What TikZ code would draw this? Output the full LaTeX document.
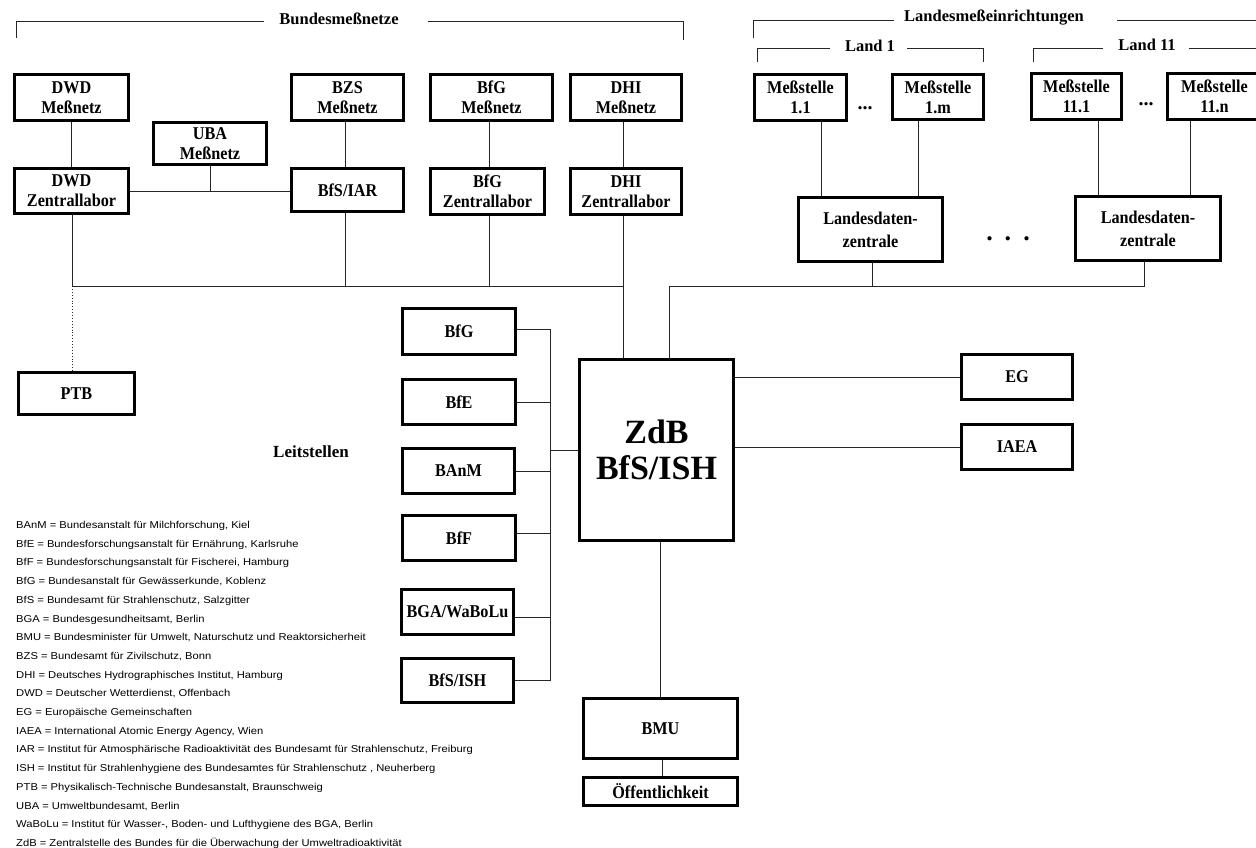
\documentclass[tikz,border=0pt]{standalone}
\usepackage{fontspec}
\setmainfont{Liberation Serif}
\newfontfamily\boxfont{Liberation Serif}[FakeStretch=0.9]
\newfontfamily\headfont{Liberation Serif}
\newfontfamily\legfont{Liberation Sans}[FakeStretch=1.12]
\usetikzlibrary{calc}

\tikzset{
  box/.style={draw, line width=3.2pt, inner sep=0pt, align=center,
    font=\boxfont\bfseries\fontsize{18}{20}\selectfont},
  bigbox/.style={box, font=\headfont\bfseries\fontsize{34}{36}\selectfont},
  conn/.style={line width=0.9pt, draw=black!85},
  ptbconn/.style={conn, dotted},
  bracket/.style={line width=0.9pt, draw=black!85},
  heading/.style={inner sep=0pt, font=\headfont\bfseries\fontsize{16.5}{18}\selectfont},
  legend/.style={anchor=base west, inner sep=0pt, font=\legfont\fontsize{10}{10}\selectfont},
}

\begin{document}
\begin{tikzpicture}[x=1pt, y=-1pt]
\useasboundingbox (0,0) rectangle (1256,847);

% ---------- Bundesmessnetze ----------
\node[heading] (hbund) at (339,19) {Bundesmeßnetze};
\coordinate (bundL) at (16,38);
\coordinate (bundR) at (683,40);
\draw[bracket] (bundL) |- ($(hbund.west)+(-15,2)$);
\draw[bracket] ($(hbund.east)+(29,2)$) -| (bundR);

\node[box, minimum width=114, minimum height=46] (dwdm) at (71.5,97.5) {DWD\\Meßnetz};
\node[box, minimum width=113, minimum height=42] (uba)  at (210,143.5) {UBA\\Meßnetz};
\node[box, minimum width=112, minimum height=46] (bzs)  at (347.5,97.5) {BZS\\Meßnetz};
\node[box, minimum width=122, minimum height=46] (bfgm) at (491.5,97.5) {BfG\\Meßnetz};
\node[box, minimum width=111, minimum height=46] (dhim) at (626,97.5) {DHI\\Meßnetz};

\node[box, minimum width=114, minimum height=45] (dwdz) at (71.5,191) {DWD\\Zentrallabor};
\node[box, minimum width=112, minimum height=43] (iar)  at (347.5,190) {BfS/IAR};
\node[box, minimum width=114, minimum height=46] (bfgz) at (487.5,191.5) {BfG\\Zentrallabor};
\node[box, minimum width=111, minimum height=46] (dhiz) at (626,191.5) {DHI\\Zentrallabor};

\node[box, minimum width=116, minimum height=42] (ptb) at (76.5,393.5) {PTB};

% ---------- Landesmesseinrichtungen ----------
\node[heading] (hland) at (994,18) {Landesmeßeinrichtungen};
\draw[bracket] (753,38) |- ($(hland.west)+(-10,2)$);
\draw[bracket] ($(hland.east)+(33,2)$) -- (1262,20);

\node[heading] (hland1) at (870,46) {Land 1};
\draw[bracket] (757,62) |- ($(hland1.west)+(-15,2)$);
\draw[bracket] ($(hland1.east)+(12,2)$) -| (983,62);

\node[heading] (hland11) at (1147,45) {Land 11};
\draw[bracket] (1033,62) |- ($(hland11.west)+(-15,3)$);
\draw[bracket] ($(hland11.east)+(13,3)$) -- (1262,48);

\node[box, minimum width=92, minimum height=46] (m11)  at (800.5,97.5) {Meßstelle\\1.1};
\node[box, minimum width=91, minimum height=45] (m1m)  at (938,97) {Meßstelle\\1.m};
\node[box, minimum width=90, minimum height=46] (m111) at (1076.5,96.5) {Meßstelle\\11.1};
\node[box, minimum width=94, minimum height=46] (m11n) at (1214.5,96.5) {Meßstelle\\11.n};

\node[inner sep=0pt, font=\headfont\bfseries\fontsize{20}{20}\selectfont] (dots1) at (865,108) {...};
\node[inner sep=0pt, font=\headfont\bfseries\fontsize{20}{20}\selectfont] (dots2) at (1146,104) {...};

\node[box, minimum width=144, minimum height=64,
      font=\boxfont\bfseries\fontsize{18}{23}\selectfont] (ld1)  at (870.5,229.5) {Landesdaten-\\zentrale};
\node[box, minimum width=145, minimum height=64,
      font=\boxfont\bfseries\fontsize{18}{23}\selectfont] (ld11) at (1148,228.5) {Landesdaten-\\zentrale};
\node[inner sep=0pt, font=\headfont\bfseries\fontsize{26}{26}\selectfont] (dots3) at (1008,239) {.\hspace{12pt}.\hspace{12pt}.};

% ---------- centre ----------
\node[bigbox, minimum width=154, minimum height=181] (zdb) at (656.5,450) {ZdB\\BfS/ISH};

\node[box, minimum width=111, minimum height=45] (eg)   at (1017,377) {EG};
\node[box, minimum width=111, minimum height=45] (iaea) at (1017,447) {IAEA};

\node[box, minimum width=154, minimum height=60] (bmu)  at (660.5,728.5) {BMU};
\node[box, minimum width=154, minimum height=28] (oeff) at (660.5,791.5) {Öffentlichkeit};

% ---------- Leitstellen ----------
\node[heading, font=\headfont\bfseries\fontsize{17}{18}\selectfont] (hleit) at (311,452) {Leitstellen};
\node[box, minimum width=113, minimum height=46] (lbfg)  at (459,331.5) {BfG};
\node[box, minimum width=113, minimum height=45] (lbfe)  at (459,402) {BfE};
\node[box, minimum width=112, minimum height=45] (lbanm) at (458.5,471) {BAnM};
\node[box, minimum width=113, minimum height=45] (lbff)  at (459,538) {BfF};
\node[box, minimum width=112, minimum height=45] (lbga)  at (457.5,612) {BGA/WaBoLu};
\node[box, minimum width=112, minimum height=44] (lish)  at (457.5,680.5) {BfS/ISH};

% ---------- connectors ----------
\coordinate (bus) at (0,286);
\coordinate (lbus) at (550,0);

\draw[conn] (dwdm.south) -- (dwdz.north);
\draw[conn] (dwdz.east) -- (dwdz.east -| iar.west);
\draw[conn] (uba.south) -- (uba.south |- dwdz.east);
\draw[conn] (bzs.south -| 345,0) -- (iar.north -| 345,0);
\draw[conn] (bfgz.north -| 489,0) -- (bfgm.south -| 489,0);
\draw[conn] (dhim.south -| 623,0) -- (dhiz.north -| 623,0);

\draw[conn] (dwdz.south -| 72,0) |- (bus -| 623,0);
\draw[conn] (iar.south -| 345,0) -- (bus -| 345,0);
\draw[conn] (bfgz.south -| 489,0) -- (bus -| 489,0);
\draw[conn] (dhiz.south -| 623,0) -- (zdb.north -| 623,0);
\draw[ptbconn] (bus -| 72,0) -- (ptb.north -| 72,0);

\draw[conn] (m11.south -| 821,0) -- (ld1.north -| 821,0);
\draw[conn] (m1m.south -| 918,0) -- (ld1.north -| 918,0);
\draw[conn] (m111.south -| 1098,0) -- (ld11.north -| 1098,0);
\draw[conn] (m11n.south -| 1190,0) -- (ld11.north -| 1190,0);

\draw[conn] (zdb.north -| 669,0) |- (bus -| 1144,0) -- (ld11.south -| 1144,0);
\draw[conn] (ld1.south -| 872,0) -- (bus -| 872,0);

\draw[conn] (lbfg.east |- 0,329) -- (lbus |- 0,329) -- (lbus |- lish.east) -- (lish.east);
\draw[conn] (lbfe.east) -- (lbfe.east -| lbus);
\draw[conn] (lbanm.east) -- (lbanm.east -| lbus);
\draw[conn] (lbff.east |- 0,533) -- (lbus |- 0,533);
\draw[conn] (lbga.east |- 0,617) -- (lbus |- 0,617);
\draw[conn] (lbus |- zdb.west) -- (zdb.west);

\draw[conn] (zdb.east |- eg.west) -- (eg.west);
\draw[conn] (zdb.east |- iaea.west) -- (iaea.west);
\draw[conn] (bmu.north) -- (bmu.north |- zdb.south);
\draw[conn] (bmu.south -| 662,0) -- (oeff.north -| 662,0);

% ---------- abbreviations ----------
\foreach \t [count=\i] in {
  {BAnM = Bundesanstalt für Milchforschung, Kiel},
  {BfE = Bundesforschungsanstalt für Ernährung, Karlsruhe},
  {BfF = Bundesforschungsanstalt für Fischerei, Hamburg},
  {BfG = Bundesanstalt für Gewässerkunde, Koblenz},
  {BfS = Bundesamt für Strahlenschutz, Salzgitter},
  {BGA = Bundesgesundheitsamt, Berlin},
  {BMU = Bundesminister für Umwelt, Naturschutz und Reaktorsicherheit},
  {BZS = Bundesamt für Zivilschutz, Bonn},
  {DHI = Deutsches Hydrographisches Institut, Hamburg},
  {DWD = Deutscher Wetterdienst, Offenbach},
  {EG = Europäische Gemeinschaften},
  {IAEA = International Atomic Energy Agency, Wien},
  {IAR = Institut für Atmosphärische Radioaktivität des Bundesamt für Strahlenschutz, Freiburg},
  {ISH = Institut für Strahlenhygiene des Bundesamtes für Strahlenschutz , Neuherberg},
  {PTB = Physikalisch-Technische Bundesanstalt, Braunschweig},
  {UBA = Umweltbundesamt, Berlin},
  {WaBoLu = Institut für Wasser-, Boden- und Lufthygiene des BGA, Berlin},
  {ZdB = Zentralstelle des Bundes für die Überwachung der Umweltradioaktivität}}
  \node[legend] (leg\i) at (16,{528.5+(\i-1)*18.7}) {\t};

\end{tikzpicture}
\end{document}
